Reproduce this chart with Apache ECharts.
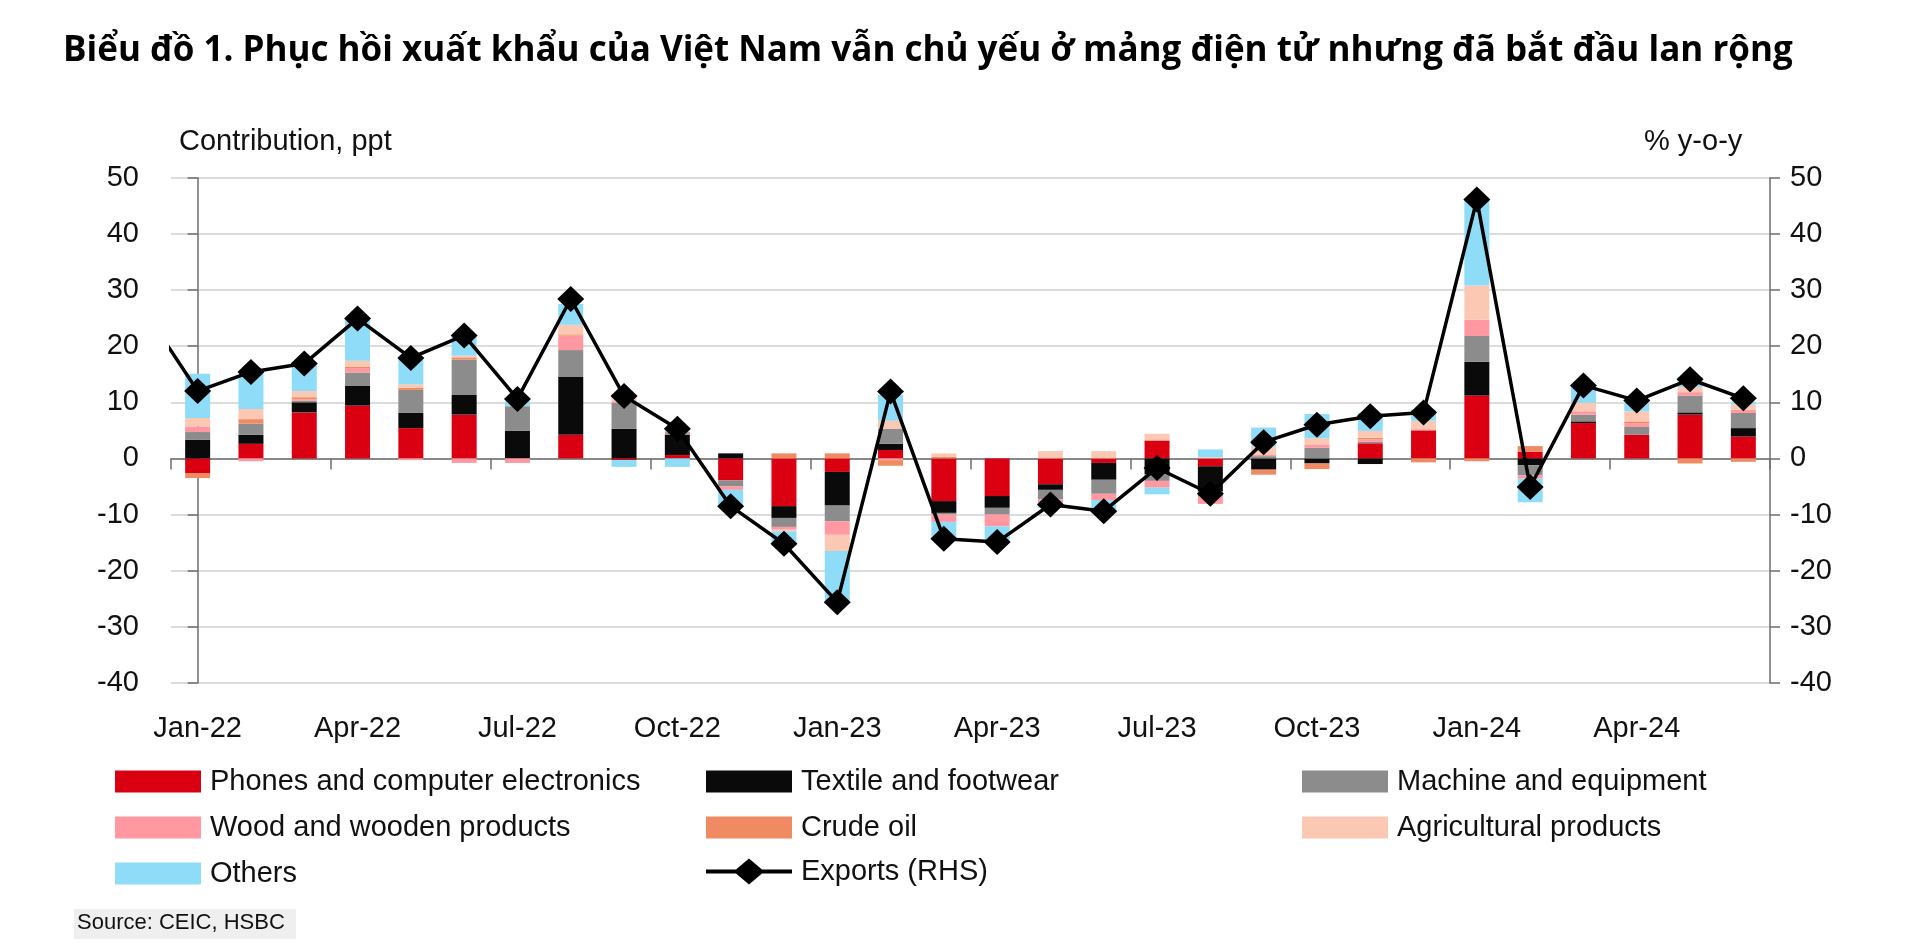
<!DOCTYPE html>
<html>
<head>
<meta charset="utf-8">
<script src="https://cdn.jsdelivr.net/npm/echarts@6/dist/echarts.min.js"></script>
<style>
html,body{margin:0;padding:0;background:#fff;}
#chart{width:1920px;height:946px;}
</style>
</head>
<body>
<div id="chart"></div>
<script>
const months = ['Jan-22','Feb-22','Mar-22','Apr-22','May-22','Jun-22','Jul-22','Aug-22','Sep-22','Oct-22','Nov-22','Dec-22',
  'Jan-23','Feb-23','Mar-23','Apr-23','May-23','Jun-23','Jul-23','Aug-23','Sep-23','Oct-23','Nov-23','Dec-23',
  'Jan-24','Feb-24','Mar-24','Apr-24','May-24','Jun-24'];
const yTicks = [-40,-30,-20,-10,0,10,20,30,40,50];

const phones   = [-2.6,2.6,8.2,9.4,5.4,7.8,0,4.2,-0.3,0.6,-3.9,-8.5,-2.4,1.5,-7.6,-6.7,-4.6,-0.8,3.2,-1.4,0,0,2.7,5.0,11.2,1.2,6.3,4.2,7.8,3.9];
const textile  = [3.3,1.6,1.8,3.5,2.7,3.5,4.9,10.3,5.3,3.6,0.9,-2.1,-6.0,1.1,-2.1,-2.1,-1.0,-3.0,-2.8,-4.5,-2.0,-0.9,-1.0,0,6.0,-1.2,0.3,0,0.4,1.5];
const machine  = [1.4,2.0,0.3,2.4,4.1,6.3,4.4,4.8,4.6,0.3,-1.1,-1.6,-2.8,2.7,-0.3,-1.2,-1.7,-2.5,-1.2,-0.9,0.4,1.9,0.3,0,4.6,-1.8,1.2,1.4,3.0,2.7];
const wood     = [1.0,-0.5,0.2,0.8,-0.3,-0.8,-0.8,2.6,0.3,0,-0.6,-0.5,-2.4,-0.3,-1.3,-2.1,-0.6,-1.1,-1.2,-1.3,0.3,0.6,0.4,0.2,2.9,-0.6,0.6,0.7,0.6,0.6];
const crude    = [-0.9,0.8,0.4,0.2,0.4,0.4,0,0.2,0,0.2,0,0.9,0.9,-1.0,0.3,0,0,0,0,0,-0.9,-1.0,0.3,-0.7,-0.5,1.0,0,0.3,-0.9,-0.6];
const agri     = [1.5,1.8,1.1,1.1,0.6,0.3,0,1.7,1.2,0.8,0,-0.3,-2.9,1.4,0.6,0,1.3,1.3,1.2,0.2,1.4,1.1,1.2,1.5,6.1,0,1.5,1.8,0.9,0.9];
const others   = [7.9,6.3,5.2,7.4,4.5,3.3,0.9,3.7,-1.2,-1.5,-2.8,-2.6,-9.2,4.6,-3.0,-2.8,-0.9,-2.4,-1.2,1.4,3.4,4.3,3.2,2.0,15.4,-4.2,3.0,1.5,1.8,0.5];
const exportsPrev = [26.4]; // Dec-21, only partly visible at the left edge
const exportsYoY = [12.0,15.4,16.9,24.9,17.9,21.9,10.6,28.4,11.1,5.3,-8.5,-15.2,-25.6,11.9,-14.3,-14.9,-8.2,-9.4,-1.7,-6.3,2.9,6.0,7.5,8.2,46.1,-5.1,13.0,10.3,14.1,10.7];

const names = ['Phones and computer electronics','Textile and footwear','Machine and equipment','Wood and wooden products','Crude oil','Agricultural products','Others','Exports (RHS)'];
const colors = ['#DB0011','#0A0A0A','#8C8C8C','#FF98A0','#EF8A62','#FBC9B3','#8EDCF7','#000000'];
const barData = [phones,textile,machine,wood,crude,agri,others];

const FONT = '"Liberation Sans", Arial, sans-serif';
const chart = echarts.init(document.getElementById('chart'), null, {renderer:'canvas'});

const lineData = exportsPrev.map((v,k)=>[k-exportsPrev.length, v]).concat(exportsYoY.map((v,i)=>[i,v]));

const series = barData.map((arr,k)=>({
  name: names[k], type:'bar', stack:'total', xAxisIndex:0, yAxisIndex:0,
  barWidth:25, data: arr, itemStyle:{color:colors[k]}, emphasis:{disabled:true}
}));
series.push({
  name: names[7], type:'line', xAxisIndex:2, yAxisIndex:1, data: lineData,
  symbol:'diamond', symbolSize:[27,26], clip:true,
  lineStyle:{color:'#000',width:3.5}, itemStyle:{color:'#000'}, z:10
});

const legendPos = [
  [115,778],[706,778],[1302,778],
  [115,824],[706,824],[1302,824],
  [115,870],[706,870]
];
const lineIcon = 'path://M0,11 L30,11 L43,0 L56,11 L86,11 L86,15 L56,15 L43,26 L30,15 L0,15 Z';
const legends = names.map((n,k)=>{
  const lg = {
    data:[n], left:legendPos[k][0], top:legendPos[k][1]-(k===7?13:11), padding:0,
    itemWidth:86, itemHeight:(k===7?26:22), itemGap:0, selectedMode:false,
    textStyle:{fontFamily:FONT,fontSize:29,color:'#111',padding:[0,0,0,4]},
    icon: k===7 ? lineIcon : 'rect'
  };
  if (k===7) { lg.itemStyle = {color:'#000', borderWidth:0}; lg.lineStyle = {width:0}; }
  return lg;
});

const option = {
  backgroundColor:'#fff',
  animation:false,
  title:{
    text:'Biểu đồ 1. Phục hồi xuất khẩu của Việt Nam vẫn chủ yếu ở mảng điện tử nhưng đã bắt đầu lan rộng',
    left:63, top:34, padding:0,
    textStyle:{fontFamily:'"Open Sans", sans-serif', fontWeight:'bold', fontSize:35, color:'#000'}
  },
  legend: legends,
  grid:{left:171, right:150, top:177.7, bottom:263, containLabel:false},
  xAxis:[
    {type:'category', data:months, position:'bottom', gridIndex:0,
     axisLine:{show:false, onZero:false}, axisTick:{show:false},
     axisLabel:{interval:2, fontFamily:FONT, fontSize:29, color:'#111', margin:31}},
    {type:'category', data:months, position:'bottom', gridIndex:0,
     axisLine:{show:true, onZero:true, lineStyle:{color:'#6e6e6e', width:1.5}},
     axisTick:{show:true, interval:2, length:11, lineStyle:{color:'#6e6e6e', width:1.5}},
     axisLabel:{show:false}},
    {type:'value', min:-0.5, max:29.5, show:false, gridIndex:0}
  ],
  yAxis:[
    {type:'value', min:yTicks[0], max:yTicks[yTicks.length-1], interval:10, position:'left',
     axisLine:{show:true, lineStyle:{color:'#6e6e6e', width:1.5}},
     axisTick:{show:true, length:10, lineStyle:{color:'#6e6e6e', width:1.5}},
     axisLabel:{fontFamily:FONT, fontSize:29, color:'#111', margin:32},
     splitLine:{show:true, lineStyle:{color:'#dcdcdc', width:1.8}}},
    {type:'value', min:yTicks[0], max:yTicks[yTicks.length-1], interval:10, position:'right',
     axisLine:{show:true, lineStyle:{color:'#6e6e6e', width:1.5}},
     axisTick:{show:true, length:10, lineStyle:{color:'#6e6e6e', width:1.5}},
     axisLabel:{fontFamily:FONT, fontSize:29, color:'#111', margin:20},
     splitLine:{show:false}}
  ],
  graphic:[
    {type:'text', left:179, top:127, style:{text:'Contribution, ppt', font:'29px '+FONT, fill:'#111'}},
    {type:'text', left:1644, top:127, style:{text:'% y-o-y', font:'29px '+FONT, fill:'#111'}},
    {type:'rect', left:74, top:909, shape:{width:222, height:30}, style:{fill:'#efefef'}},
    {type:'text', left:77, top:912, style:{text:'Source: CEIC, HSBC', font:'22px '+FONT, fill:'#111'}}
  ],
  series: series
};
chart.setOption(option);
</script>
</body>
</html>
